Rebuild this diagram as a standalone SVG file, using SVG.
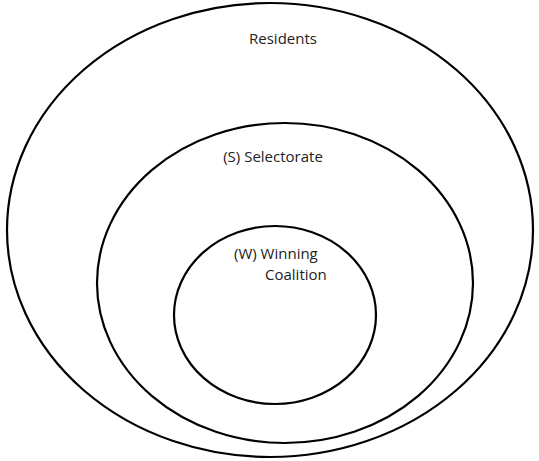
<svg xmlns="http://www.w3.org/2000/svg" width="539" height="461" viewBox="0 0 539 461">
<style>
.ring{fill:none;stroke:#000;stroke-width:2.2}
.lbl{font-family:"Open Sans",Lato,"Liberation Sans",sans-serif;font-size:15px;fill:#222}
</style>
<rect width="539" height="461" fill="#fff"/>
<g id="residents">
<ellipse class="ring" cx="270" cy="230" rx="263" ry="227"/>
<text class="lbl" x="283" y="44" text-anchor="middle">Residents</text>
</g>
<g id="selectorate">
<ellipse class="ring" cx="285" cy="283" rx="188" ry="160"/>
<text class="lbl" x="273" y="162" text-anchor="middle">(S) Selectorate</text>
</g>
<g id="winning-coalition">
<ellipse class="ring" cx="275" cy="315" rx="101" ry="89"/>
<text class="lbl" x="234" y="259">(W) Winning</text>
<text class="lbl" x="265" y="280">Coalition</text>
</g>
<g id="connectors"/>
</svg>
